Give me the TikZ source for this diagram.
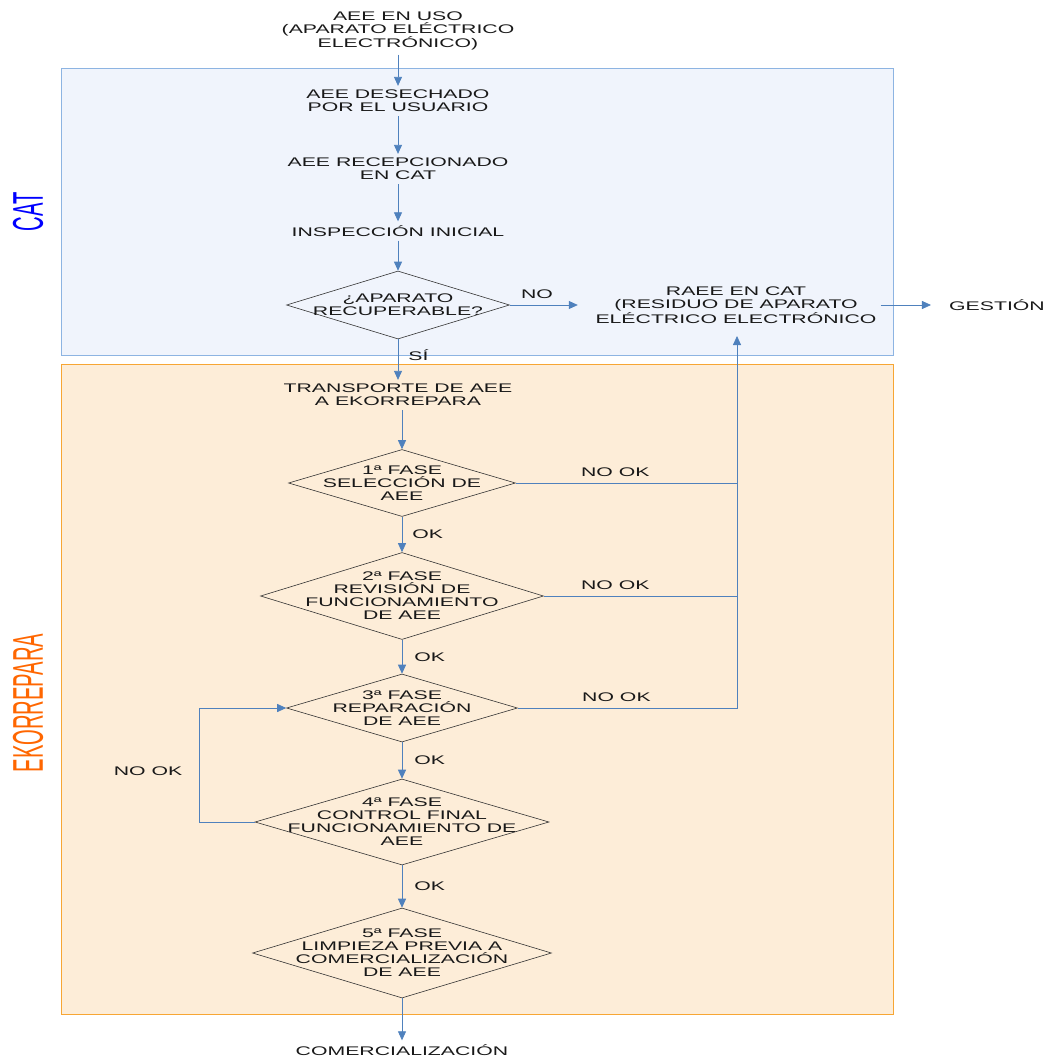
\documentclass[tikz,border=0pt]{standalone}
\usepackage{fontspec}
\setmainfont{Liberation Sans}[FakeStretch=1.7]
\newfontfamily\sidefont{Liberation Sans}[FakeStretch=0.47]
\usetikzlibrary{shapes.geometric,arrows.meta}
\definecolor{arrowblue}{RGB}{79,129,189}
\definecolor{catline}{RGB}{141,180,226}
\definecolor{catfill}{RGB}{240,244,252}
\definecolor{ekoline}{RGB}{247,166,52}
\definecolor{ekofill}{RGB}{253,237,216}
\definecolor{ekotext}{RGB}{255,102,0}
\definecolor{txtgray}{RGB}{25,25,25}
\tikzset{
  txt/.style={align=center, text=txtgray, font=\fontsize{12.5}{13}\selectfont, inner sep=4pt},
  dia/.style={diamond, draw=black!80, line width=0.6pt, inner sep=0pt},
  arr/.style={draw=arrowblue, line width=0.8pt, -{Triangle[length=9pt,width=8pt]}},
  lin/.style={draw=arrowblue, line width=0.8pt},
  side/.style={rotate=90, inner sep=0pt},
}
\begin{document}
\begin{tikzpicture}[x=1pt,y=-1pt]
  \useasboundingbox (0,0) rectangle (1048,1057);
  % Areas
  \filldraw[fill=catfill, draw=catline, line width=1pt] (61,69) rectangle (893,355);
  \filldraw[fill=ekofill, draw=ekoline, line width=1pt] (61,364) rectangle (893,1014);
  \node[side, text=blue] (cat) at (28,212) {\sidefont\fontsize{43}{43}\selectfont CAT};
  \node[side, text=ekotext] (eko) at (28,703) {\sidefont\fontsize{43}{43}\selectfont EKORREPARA};
  % Steps
  \node[txt] (uso) at (398,31) {AEE EN USO\\(APARATO ELÉCTRICO\\ELECTRÓNICO)};
  \node[txt] (des) at (398,101) {AEE DESECHADO\\POR EL USUARIO};
  \node[txt] (rec) at (398,169) {AEE RECEPCIONADO\\EN CAT};
  \node[txt] (ins) at (398,231) {INSPECCIÓN INICIAL};
  \node[dia, minimum width=223, minimum height=68] (d0) at (398,305) {};
  \node[txt] (d0t) at (d0) {¿APARATO\\RECUPERABLE?};
  \node[txt] (raee) at (736,305) {RAEE EN CAT\\(RESIDUO DE APARATO\\ELÉCTRICO ELECTRÓNICO};
  \node[txt] (gest) at (997,305) {GESTIÓN};
  \node[txt] (tra) at (398,395) {TRANSPORTE DE AEE\\A EKORREPARA};
  \node[dia, minimum width=227, minimum height=67] (d1) at (402,483) {};
  \node[txt] (d1t) at (d1) {1ª FASE\\SELECCIÓN DE\\AEE};
  \node[dia, minimum width=283, minimum height=87] (d2) at (402,596) {};
  \node[txt] (d2t) at (d2) {2ª FASE\\REVISIÓN DE\\FUNCIONAMIENTO\\DE AEE};
  \node[dia, minimum width=231, minimum height=68] (d3) at (402,708) {};
  \node[txt] (d3t) at (d3) {3ª FASE\\REPARACIÓN\\DE AEE};
  \node[dia, minimum width=294, minimum height=86] (d4) at (402,822) {};
  \node[txt] (d4t) at (d4) {4ª FASE\\CONTROL FINAL\\FUNCIONAMIENTO DE\\AEE};
  \node[dia, minimum width=299, minimum height=90] (d5) at (402,953) {};
  \node[txt] (d5t) at (d5) {5ª FASE\\LIMPIEZA PREVIA A\\COMERCIALIZACIÓN\\DE AEE};
  \node[txt] (com) at (402,1050) {COMERCIALIZACIÓN};
  \coordinate (rin) at (737,336);
  % Arrows
  \draw[arr] (uso) -- (des);
  \draw[arr] (des) -- (rec);
  \draw[arr] (rec) -- (ins);
  \draw[arr] (ins) -- (d0.north);
  \draw[arr] (d0.east) -- ++(68,0) node[txt, pos=0.4, above, inner sep=6pt] {NO};
  \draw[arr, shorten >=14pt] (raee.east) -- (gest.west);
  \draw[arr] (d0.south) -- (tra.north) node[txt, pos=0.4, right, inner sep=10pt] {SÍ};
  \draw[arr] (d1.north |- tra.south) -- (d1.north);
  \draw[arr] (d1.south) -- (d2.north) node[txt, midway, right, inner sep=10pt] {OK};
  \draw[arr] (d2.south) -- (d3.north) node[txt, midway, right, inner sep=12pt] {OK};
  \draw[arr] (d3.south) -- (d4.north) node[txt, midway, right, inner sep=12pt] {OK};
  \draw[arr] (d4.south) -- (d5.north) node[txt, midway, right, inner sep=12pt] {OK};
  \draw[arr] (d5.south) -- (com.north);
  \draw[lin] (d1.east) -- (d1.east -| rin) node[txt, pos=0.45, above, inner sep=6pt] {NO OK};
  \draw[lin] (d2.east) -- (d2.east -| rin) node[txt, pos=0.37, above, inner sep=6pt] {NO OK};
  \draw[arr] (d3.east) -- (d3.east -| rin) node[txt, pos=0.45, above, inner sep=6pt] {NO OK} -- (rin);
  \draw[arr] (d4.west) -- ++(-55,0) |- (d3.west);
  \node[txt] (nok) at (148,771) {NO OK};
\end{tikzpicture}
\end{document}
